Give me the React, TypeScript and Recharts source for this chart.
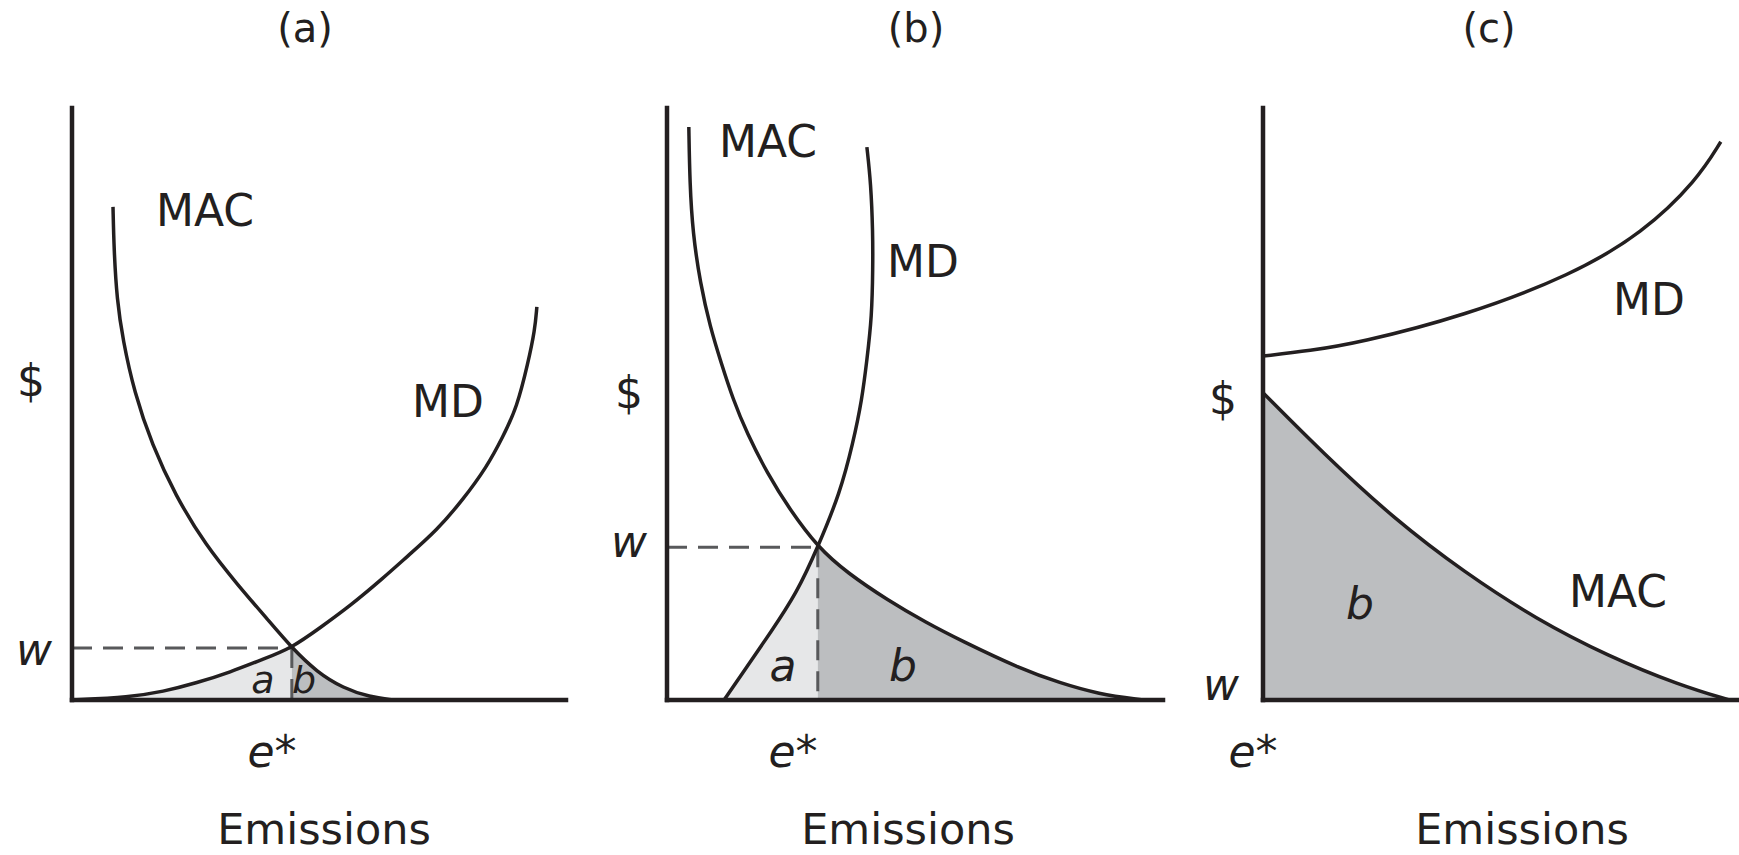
import { ComposedChart, Line, Area, XAxis, YAxis, ReferenceLine } from 'recharts'

type Pt = { x: number; y: number }

// (a) steep MAC, flat MD
const macA: Pt[] = [
  { x: 8.3, y: 83.3 }, { x: 8.5, y: 76.0 }, { x: 9.1, y: 67.6 }, { x: 10.3, y: 60.8 },
  { x: 12.6, y: 52.0 }, { x: 16.2, y: 43.1 }, { x: 20.9, y: 34.6 }, { x: 27.0, y: 26.2 },
  { x: 33.6, y: 19.4 }, { x: 39.7, y: 13.5 }, { x: 44.5, y: 8.8 }, { x: 49.6, y: 4.7 },
  { x: 54.9, y: 2.0 }, { x: 60.3, y: 0.5 }, { x: 65.0, y: 0 },
]
const mdA: Pt[] = [
  { x: 0, y: 0 }, { x: 11.7, y: 0.5 }, { x: 18.4, y: 1.4 }, { x: 25.3, y: 2.9 },
  { x: 32.0, y: 4.7 }, { x: 38.7, y: 6.9 }, { x: 44.5, y: 8.8 }, { x: 50.2, y: 12.2 },
  { x: 56.3, y: 15.9 }, { x: 63.0, y: 20.6 }, { x: 67.8, y: 24.2 }, { x: 73.9, y: 28.7 },
  { x: 79.1, y: 33.8 }, { x: 84.0, y: 39.4 }, { x: 87.2, y: 44.4 }, { x: 90.1, y: 49.5 },
  { x: 92.3, y: 56.9 }, { x: 93.7, y: 62.5 }, { x: 94.1, y: 66.4 },
]
const eStarA = 44.5
const wA = 8.8

// (b) steep MD
const macB: Pt[] = [
  { x: 4.4, y: 96.8 }, { x: 4.6, y: 87.3 }, { x: 5.2, y: 78.9 }, { x: 6.7, y: 70.4 },
  { x: 8.7, y: 63.0 }, { x: 10.9, y: 57.0 }, { x: 13.3, y: 50.8 }, { x: 16.1, y: 45.1 },
  { x: 20.2, y: 38.3 }, { x: 24.8, y: 32.1 }, { x: 30.4, y: 25.8 }, { x: 36.3, y: 21.5 },
  { x: 44.4, y: 16.9 }, { x: 52.4, y: 13.0 }, { x: 59.1, y: 10.1 }, { x: 71.4, y: 5.2 },
  { x: 79.2, y: 2.9 }, { x: 86.9, y: 1.0 }, { x: 96.0, y: 0 },
]
const mdB: Pt[] = [
  { x: 11.5, y: 0 }, { x: 16.1, y: 5.6 }, { x: 20.8, y: 11.3 }, { x: 26.2, y: 18.1 },
  { x: 30.4, y: 25.8 }, { x: 34.9, y: 35.0 }, { x: 37.5, y: 43.4 }, { x: 39.3, y: 50.7 },
  { x: 40.3, y: 57.4 }, { x: 41.3, y: 64.7 }, { x: 41.5, y: 73.1 }, { x: 41.5, y: 78.9 },
  { x: 41.1, y: 87.3 }, { x: 40.3, y: 93.4 },
]
const eStarB = 30.4
const wB = 25.8

// (c) MD always above MAC -> e* = 0
const macC: Pt[] = [
  { x: 0, y: 51.9 }, { x: 12.1, y: 41.7 }, { x: 26.4, y: 30.6 }, { x: 40.7, y: 21.5 },
  { x: 55.0, y: 13.7 }, { x: 69.6, y: 7.4 }, { x: 84.0, y: 2.5 }, { x: 94.0, y: 0 },
]
const mdC: Pt[] = [
  { x: 0, y: 58.1 }, { x: 9.5, y: 59.0 }, { x: 19.2, y: 60.3 }, { x: 40.7, y: 64.9 },
  { x: 62.3, y: 71.8 }, { x: 76.6, y: 78.9 }, { x: 87.5, y: 87.8 }, { x: 92.3, y: 94.3 },
]
const eStarC = 0
const wC = 0

const INK = '#231f20'
const LIGHT = '#e6e7e8'
const DARK = '#bcbec0'
const DASH = '#58595b'

const PAD = 12
const PLOT_TOP = 108
const PLOT_H = 592

interface PanelProps {
  left: number
  width: number
  mac: Pt[]
  md: Pt[]
  eStar: number
  w: number
}

function Panel({ left, width, mac, md, eStar, w }: PanelProps) {
  const areaA = md.filter(p => p.x <= eStar)
  const areaB = mac.filter(p => p.x >= eStar)
  return (
    <div style={{ position: 'absolute', left: left - PAD, top: PLOT_TOP - PAD }}>
      <ComposedChart
        width={width + 2 * PAD}
        height={PLOT_H + 2 * PAD}
        margin={{ top: PAD, right: PAD, bottom: PAD, left: PAD }}
      >
        <XAxis type="number" dataKey="x" domain={[0, 100]} hide />
        <YAxis type="number" domain={[0, 100]} hide />
        {areaA.length > 1 && (
          <Area data={areaA} dataKey="y" type="basis" stroke="none" fill={LIGHT} fillOpacity={1} isAnimationActive={false} />
        )}
        <Area data={areaB} dataKey="y" type="basis" stroke="none" fill={DARK} fillOpacity={1} isAnimationActive={false} />
        {w > 0 && (
          <ReferenceLine
            segment={[{ x: 0, y: w }, { x: eStar, y: w }]}
            stroke={DASH}
            strokeWidth={3}
            strokeDasharray="20 11"
          />
        )}
        {w > 0 && (
          <ReferenceLine
            segment={[{ x: eStar, y: w }, { x: eStar, y: 0 }]}
            stroke={DASH}
            strokeWidth={3}
            strokeDasharray="20 11"
          />
        )}
        <Line data={mac} dataKey="y" type="basis" stroke={INK} strokeWidth={3.5} dot={false} isAnimationActive={false} />
        <Line data={md} dataKey="y" type="basis" stroke={INK} strokeWidth={3.5} dot={false} isAnimationActive={false} />
        <ReferenceLine x={0} stroke={INK} strokeWidth={4.5} strokeLinecap="square" />
        <ReferenceLine y={0} stroke={INK} strokeWidth={4.5} strokeLinecap="square" />
      </ComposedChart>
    </div>
  )
}

function Txt({ x, y, size = 44, italic = false, children }: { x: number; y: number; size?: number; italic?: boolean; children: string }) {
  return (
    <div
      style={{
        position: 'absolute', left: x, top: y, transform: 'translate(-50%, -50%)',
        fontSize: size, lineHeight: 1, fontStyle: italic ? 'italic' : 'normal',
        whiteSpace: 'nowrap', color: INK,
      }}
    >
      {children}
    </div>
  )
}

export default function App() {
  return (
    <div
      style={{
        position: 'fixed', left: 0, top: 0, width: 1739, height: 855, overflow: 'hidden',
        background: '#fff', fontFamily: '"DejaVu Sans", sans-serif',
      }}
    >
      <Panel left={72} width={494} mac={macA} md={mdA} eStar={eStarA} w={wA} />
      <Panel left={667} width={496} mac={macB} md={mdB} eStar={eStarB} w={wB} />
      <Panel left={1263} width={496} mac={macC} md={mdC} eStar={eStarC} w={wC} />

      <Txt x={305} y={28} size={40}>(a)</Txt>
      <Txt x={205} y={211}>MAC</Txt>
      <Txt x={448} y={402}>MD</Txt>
      <Txt x={31} y={381}>$</Txt>
      <Txt x={34} y={650} italic>w</Txt>
      <Txt x={263} y={680} size={38} italic>a</Txt>
      <Txt x={304} y={680} size={38} italic>b</Txt>
      <Txt x={272} y={752} italic>e*</Txt>
      <Txt x={324} y={829} size={43}>Emissions</Txt>

      <Txt x={916} y={28} size={40}>(b)</Txt>
      <Txt x={768} y={142}>MAC</Txt>
      <Txt x={923} y={262}>MD</Txt>
      <Txt x={629} y={393}>$</Txt>
      <Txt x={629} y={542} italic>w</Txt>
      <Txt x={783} y={666} italic>a</Txt>
      <Txt x={903} y={666} italic>b</Txt>
      <Txt x={793} y={752} italic>e*</Txt>
      <Txt x={908} y={829} size={43}>Emissions</Txt>

      <Txt x={1489} y={28} size={40}>(c)</Txt>
      <Txt x={1649} y={300}>MD</Txt>
      <Txt x={1618} y={592}>MAC</Txt>
      <Txt x={1223} y={399}>$</Txt>
      <Txt x={1221} y={685} italic>w</Txt>
      <Txt x={1360} y={604} italic>b</Txt>
      <Txt x={1253} y={752} italic>e*</Txt>
      <Txt x={1522} y={829} size={43}>Emissions</Txt>
    </div>
  )
}
